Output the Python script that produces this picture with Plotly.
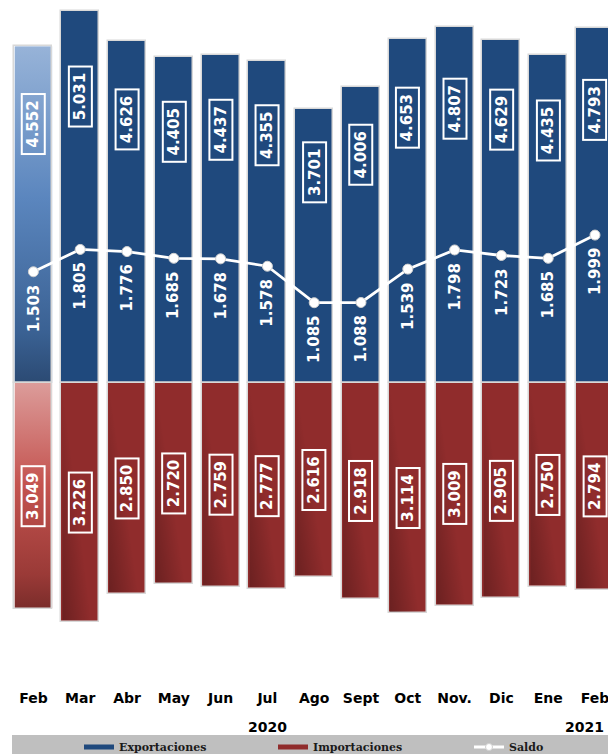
import base64
import plotly.graph_objects as go

months = ["Feb", "Mar", "Abr", "May", "Jun", "Jul", "Ago", "Sept", "Oct", "Nov.", "Dic", "Ene", "Feb"]
exportaciones = [4.552, 5.031, 4.626, 4.405, 4.437, 4.355, 3.701, 4.006, 4.653, 4.807, 4.629, 4.435, 4.793]
importaciones = [3.049, 3.226, 2.850, 2.720, 2.759, 2.777, 2.616, 2.918, 3.114, 3.009, 2.905, 2.750, 2.794]
saldo = [1.503, 1.805, 1.776, 1.685, 1.678, 1.578, 1.085, 1.088, 1.539, 1.798, 1.723, 1.685, 1.999]
years = ["2020", "2021"]
year_pos = [5, 11.77]

def fmt(v):
    return f"{v:.3f}"

x = list(range(len(months)))
BLUE = "#1f497d"
RED = "#902c2c"
BAR_W = 0.81

def grad(stops, x2=0, y1=0, y2=1):
    s = "".join(f"<stop offset='{o}' stop-color='{c}' stop-opacity='{a}'/>" for o, c, a in stops)
    svg = ("<svg xmlns='http://www.w3.org/2000/svg' width='10' height='100' viewBox='0 0 10 100' "
           f"preserveAspectRatio='none'><defs><linearGradient id='g' x1='0' y1='{y1}' x2='{x2}' y2='{y2}'>"
           + s + "</linearGradient></defs><rect width='10' height='100' fill='url(#g)'/></svg>")
    return "data:image/svg+xml;base64," + base64.b64encode(svg.encode()).decode()

exp_colors = ["rgba(0,0,0,0)"] + [BLUE] * (len(x) - 1)
imp_colors = ["rgba(0,0,0,0)"] + [RED] * (len(x) - 1)

fig = go.Figure()
fig.add_trace(go.Bar(x=x, y=exportaciones, width=BAR_W, marker=dict(color=exp_colors, line=dict(color="#d8d8d8", width=1.5)),
                     showlegend=False, hoverinfo="skip"))
fig.add_trace(go.Bar(x=x, y=[-v for v in importaciones], width=BAR_W, marker=dict(color=imp_colors, line=dict(color="#d8d8d8", width=1.5)),
                     showlegend=False, hoverinfo="skip"))
fig.add_trace(go.Scatter(x=x, y=saldo, mode="lines+markers", line=dict(color="white", width=2.8),
                         marker=dict(color="white", size=10, line=dict(color="#d0d0d0", width=1)),
                         showlegend=False, hoverinfo="skip"))

# legend-only entries
fig.add_trace(go.Scatter(x=[None], y=[None], mode="lines", line=dict(color=BLUE, width=5),
                         name="<b>Exportaciones</b>", legend="legend"))
fig.add_trace(go.Scatter(x=[None], y=[None], mode="lines", line=dict(color=RED, width=5),
                         name="<b>Importaciones</b>", legend="legend2"))
fig.add_trace(go.Scatter(x=[None], y=[None], mode="lines+markers", line=dict(color="white", width=3),
                         marker=dict(color="white", size=7, line=dict(color="#d0d0d0", width=1)),
                         name="<b>Saldo</b>", legend="legend3"))

images = [
    dict(source=grad([(0, "#97b3d8", 1), (0.45, "#5b86be", 1), (0.85, "#3a6193", 1), (1, "#2b4a73", 1)]),
         xref="x", yref="y", x=x[0] - BAR_W / 2, y=exportaciones[0], sizex=BAR_W, sizey=exportaciones[0],
         xanchor="left", yanchor="top", sizing="stretch", layer="below"),
    dict(source=grad([(0, "#dc9c9a", 1), (0.45, "#c4534f", 1), (0.85, "#9a3a37", 1), (1, "#7a2c2a", 1)]),
         xref="x", yref="y", x=x[0] - BAR_W / 2, y=0, sizex=BAR_W, sizey=importaciones[0],
         xanchor="left", yanchor="top", sizing="stretch", layer="below"),
]
shade = grad([(0, "#000000", 0.26), (1, "#000000", 0)], x2=0.5, y1=1, y2=0.6)
for i in x[1:]:
    images.append(dict(source=shade, xref="x", yref="y", x=x[i] - BAR_W / 2 + 0.02, y=-0.02,
                       sizex=BAR_W - 0.04, sizey=importaciones[i] - 0.04,
                       xanchor="left", yanchor="top", sizing="stretch", layer="above"))

LBL = dict(family="DejaVu Sans", size=15, color="white", weight="bold")
ann = []
for i, v in enumerate(exportaciones):
    ann.append(dict(x=x[i], y=v * 0.77, text=fmt(v), textangle=-90, showarrow=False, font=LBL,
                    bordercolor="white", borderwidth=2, borderpad=2, width=54, height=17))
for i, v in enumerate(importaciones):
    ann.append(dict(x=x[i], y=-v * 0.5, text=fmt(v), textangle=-90, showarrow=False, font=LBL,
                    bordercolor="white", borderwidth=2, borderpad=2, width=54, height=17))
for i, v in enumerate(saldo):
    ann.append(dict(x=x[i], y=v, yshift=-37, text=fmt(v), textangle=-90, showarrow=False, font=LBL))
for yr, p in zip(years, year_pos):
    ann.append(dict(x=p, xref="x", y=-0.0567, yref="paper", yanchor="middle", text=yr, showarrow=False,
                    font=dict(family="DejaVu Sans", size=14, color="black", weight="bold")))

PX = 74.0
H_PLOT = 688
ymax = 383 / PX
ymin = -(H_PLOT - 383) / PX

LEG = dict(family="DejaVu Serif", size=11, color="#1a1a1a")
def leg(xpix):
    return dict(x=(xpix - 10) / 598, xanchor="left", y=(H_PLOT - 747) / H_PLOT, yanchor="middle",
                orientation="h", bgcolor="rgba(0,0,0,0)", font=LEG, itemwidth=30)

fig.update_layout(
    width=608, height=754,
    margin=dict(l=10, r=0, t=0, b=754 - H_PLOT, autoexpand=False),
    paper_bgcolor="white", plot_bgcolor="rgba(0,0,0,0)",
    barmode="relative", bargap=0,
    xaxis=dict(range=[-0.5, -0.5 + 598 / 46.8], tickvals=x, ticktext=months, showgrid=False, zeroline=False,
               automargin=False, showline=False, ticks="", ticklabeloverflow="allow",
               tickfont=dict(family="DejaVu Sans", size=14, color="black", weight="bold")),
    yaxis=dict(range=[ymin, ymax], visible=False, automargin=False),
    images=images,
    annotations=ann,
    shapes=[dict(type="rect", xref="paper", yref="paper", x0=(12 - 10) / 598, x1=1.0,
                 y0=(H_PLOT - 735) / H_PLOT, y1=(H_PLOT - 756) / H_PLOT, fillcolor="#bfbfbf", line=dict(width=0), layer="below")],
    legend=leg(79), legend2=leg(273), legend3=leg(469),
)

fig.write_html("out.html", config={"displayModeBar": False},
               post_script="document.body.style.margin='0px';document.body.style.overflow='hidden';")
